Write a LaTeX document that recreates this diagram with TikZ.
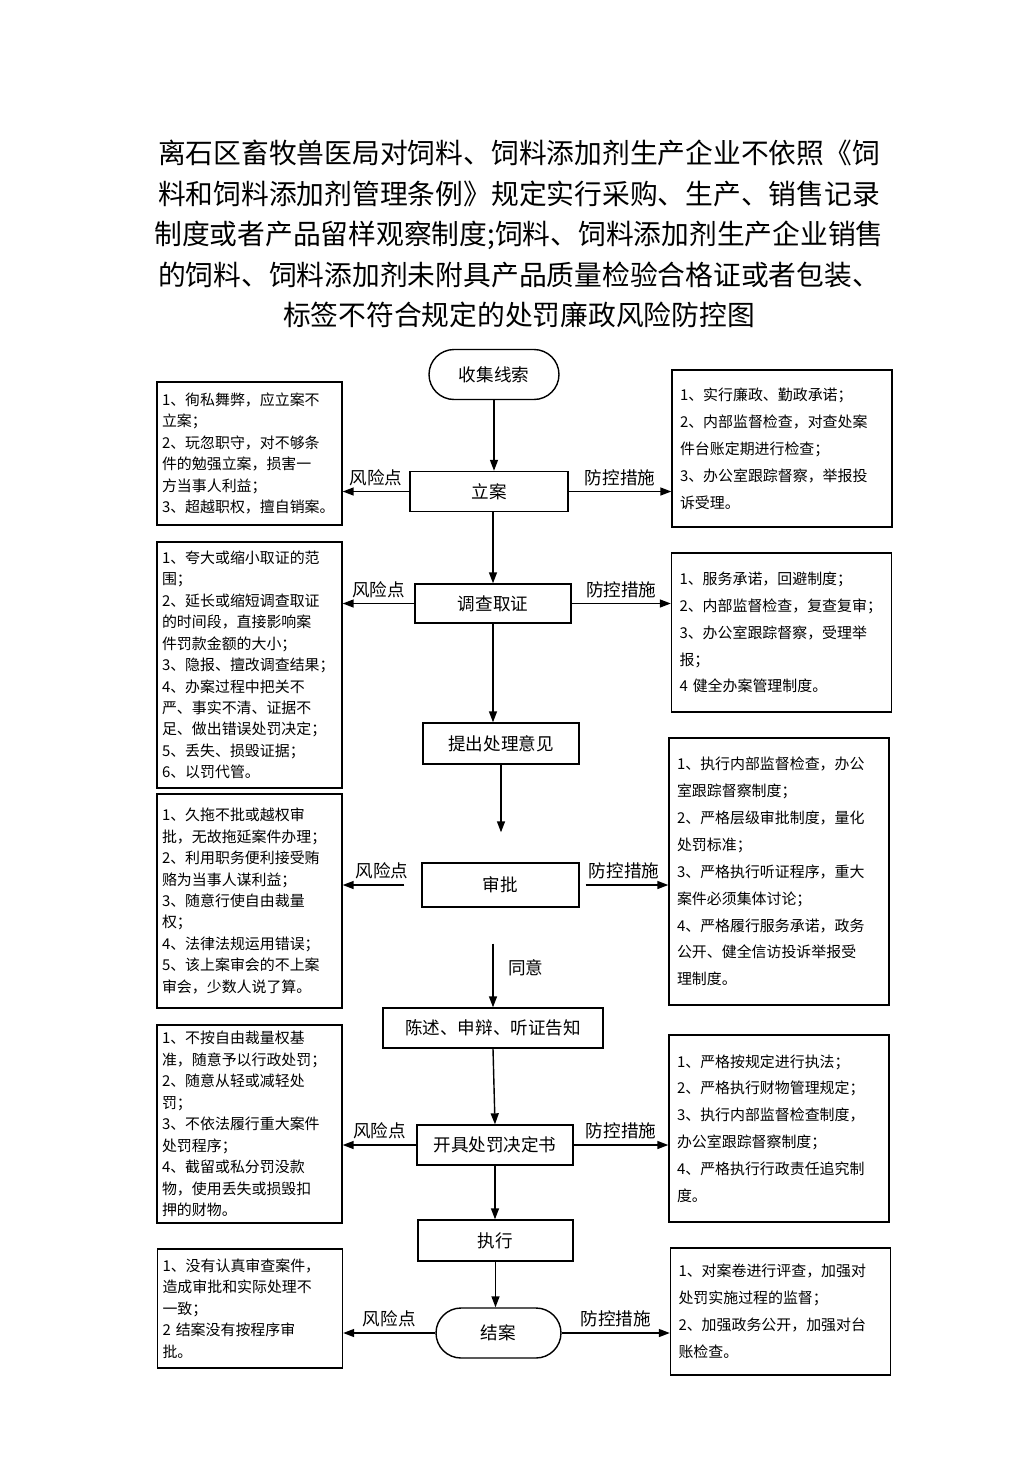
\documentclass[tikz,border=0pt]{standalone}
\usepackage{fontspec}
\setmainfont{Noto Sans CJK SC}
\usetikzlibrary{arrows.meta,shapes.misc}

\begin{document}
\begin{tikzpicture}[x=0.02cm,y=-0.02cm,line width=0.8pt,
  stepbox/.style={rectangle,draw,minimum height=0.8cm,minimum width=3.12cm,inner sep=0pt,font=\fontsize{10}{12}\selectfont},
  endbox/.style={rounded rectangle,draw,minimum height=1cm,inner sep=0pt,font=\fontsize{10}{12}\selectfont},
  riskbox/.style={rectangle,draw,minimum width=3.7cm,text width=3.5cm,inner xsep=0.1cm,inner ysep=1pt,align=left,font=\fontsize{8.5}{12.2}\selectfont},
  ctrlbox/.style={rectangle,draw,minimum width=4.4cm,text width=4.08cm,inner xsep=0.16cm,inner ysep=1pt,align=left,font=\fontsize{8.5}{15.3}\selectfont},
  arr/.style={-{Stealth[length=0.22cm,width=0.16cm,inset=0pt]}},
  lbl/.style={above,inner sep=3pt,font=\fontsize{10}{12}\selectfont}]
  \useasboundingbox (0,0) rectangle (1033,1461);

  % title
  \node[align=center,font=\fontsize{15.8}{23}\selectfont] (title) at (519,234)
    {离石区畜牧兽医局对饲料、饲料添加剂生产企业不依照《饲\\
     料和饲料添加剂管理条例》规定实行采购、生产、销售记录\\
     制度或者产品留样观察制度;饲料、饲料添加剂生产企业销售\\
     的饲料、饲料添加剂未附具产品质量检验合格证或者包装、\\
     标签不符合规定的处罚廉政风险防控图};

  % main steps
  \node[endbox,minimum width=2.6cm] (sj) at (494,374.5) {收集线索};
  \node[stepbox,minimum width=3.16cm] (la) at (489,491.5) {立案};
  \node[stepbox,minimum height=0.78cm] (dc) at (493,603.5) {调查取证};
  \node[stepbox,minimum height=0.82cm] (tc) at (501,743.5) {提出处理意见};
  \node[stepbox,minimum width=3.14cm,minimum height=0.88cm] (sp) at (500.5,885) {审批};
  \node[stepbox,minimum width=4.4cm] (cs) at (493,1028) {陈述、申辩、听证告知};
  \node[stepbox] (kj) at (495,1145) {开具处罚决定书};
  \node[stepbox,minimum width=3.1cm,minimum height=0.82cm] (zx) at (495.5,1240.5) {执行};
  \node[endbox,minimum width=2.5cm] (ja) at (498.5,1333) {结案};

  % risk points
  \node[riskbox,minimum height=2.86cm] (r1) at (249.5,453.5)
    {1、徇私舞弊，应立案不\\立案；\\2、玩忽职守，对不够条\\件的勉强立案，损害一\\方当事人利益；\\3、超越职权，擅自销案。};
  \node[riskbox,minimum height=4.92cm] (r2) at (249.5,665)
    {1、夸大或缩小取证的范\\围；\\2、延长或缩短调查取证\\的时间段，直接影响案\\件罚款金额的大小；\\3、隐报、擅改调查结果；\\4、办案过程中把关不\\严、事实不清、证据不\\足、做出错误处罚决定；\\5、丢失、损毁证据；\\6、以罚代管。};
  \node[riskbox,minimum height=4.28cm] (r3) at (249.5,901)
    {1、久拖不批或越权审\\批，无故拖延案件办理；\\2、利用职务便利接受贿\\赂为当事人谋利益；\\3、随意行使自由裁量\\权；\\4、法律法规运用错误；\\5、该上案审会的不上案\\审会，少数人说了算。};
  \node[riskbox,minimum height=3.96cm] (r4) at (249.5,1124)
    {1、不按自由裁量权基\\准，随意予以行政处罚；\\2、随意从轻或减轻处\\罚；\\3、不依法履行重大案件\\处罚程序；\\4、截留或私分罚没款\\物，使用丢失或损毁扣\\押的财物。};
  \node[riskbox,minimum height=2.38cm] (r5) at (250,1308.5)
    {1、没有认真审查案件，\\造成审批和实际处理不\\一致；\\2 结案没有按程序审\\批。};

  % control measures
  \node[ctrlbox,minimum height=3.14cm] (c1) at (782,448.5)
    {1、实行廉政、勤政承诺；\\2、内部监督检查，对查处案\\件台账定期进行检查；\\3、办公室跟踪督察，举报投\\诉受理。};
  \node[ctrlbox,minimum height=3.18cm] (c2) at (781.5,632.5)
    {1、服务承诺，回避制度；\\2、内部监督检查，复查复审；\\3、办公室跟踪督察，受理举\\报；\\4 健全办案管理制度。};
  \node[ctrlbox,minimum height=5.34cm] (c3) at (779,871.5)
    {1、执行内部监督检查，办公\\室跟踪督察制度；\\2、严格层级审批制度，量化\\处罚标准；\\3、严格执行听证程序，重大\\案件必须集体讨论；\\4、严格履行服务承诺，政务\\公开、健全信访投诉举报受\\理制度。};
  \node[ctrlbox,minimum height=3.74cm] (c4) at (779,1128.5)
    {1、严格按规定进行执法；\\2、严格执行财物管理规定；\\3、执行内部监督检查制度，\\办公室跟踪督察制度；\\4、严格执行行政责任追究制\\度。};
  \node[ctrlbox,minimum height=2.54cm] (c5) at (780.5,1311.5)
    {1、对案卷进行评查，加强对\\处罚实施过程的监督；\\2、加强政务公开，加强对台\\账检查。};

  % flow
  \draw[arr] (sj.south) -- (sj.south |- la.north);
  \draw[arr] (dc.north |- la.south) -- (dc.north);
  \draw[arr] (dc.south) -- (dc.south |- tc.north);
  \draw[arr,shorten >=0.6cm] (tc.south) -- (tc.south |- sp.north);
  \draw[arr,shorten <=0.72cm] (cs.north |- sp.south) -- (cs.north)
    node[pos=0.6,right=0.22cm,inner sep=2pt,font=\fontsize{10}{12}\selectfont] {同意};
  \draw[arr] (cs.south) -- (kj.north);
  \draw[arr] (kj.south) -- (kj.south |- zx.north);
  \draw[arr] (zx.south) -- (zx.south |- ja.north);

  % risk arrows
  \draw[arr] (la.west) -- (la.west -| r1.east) node[lbl,midway] {风险点};
  \draw[arr] (dc.west) -- (dc.west -| r2.east) node[lbl,midway] {风险点};
  \draw[arr,shorten <=0.34cm] (sp.west) -- (sp.west -| r3.east) node[lbl,midway] {风险点};
  \draw[arr] (kj.west) -- (kj.west -| r4.east) node[lbl,midway] {风险点};
  \draw[arr] (ja.west) -- (ja.west -| r5.east) node[lbl,midway] {风险点};

  % control arrows
  \draw[arr] (la.east) -- (la.east -| c1.west) node[lbl,midway] {防控措施};
  \draw[arr] (dc.east) -- (dc.east -| c2.west) node[lbl,midway] {防控措施};
  \draw[arr,shorten <=0.12cm] (sp.east) -- (sp.east -| c3.west) node[lbl,midway] {防控措施};
  \draw[arr] (kj.east) -- (kj.east -| c4.west) node[lbl,midway] {防控措施};
  \draw[arr] (ja.east) -- (ja.east -| c5.west) node[lbl,midway] {防控措施};
\end{tikzpicture}
\end{document}
